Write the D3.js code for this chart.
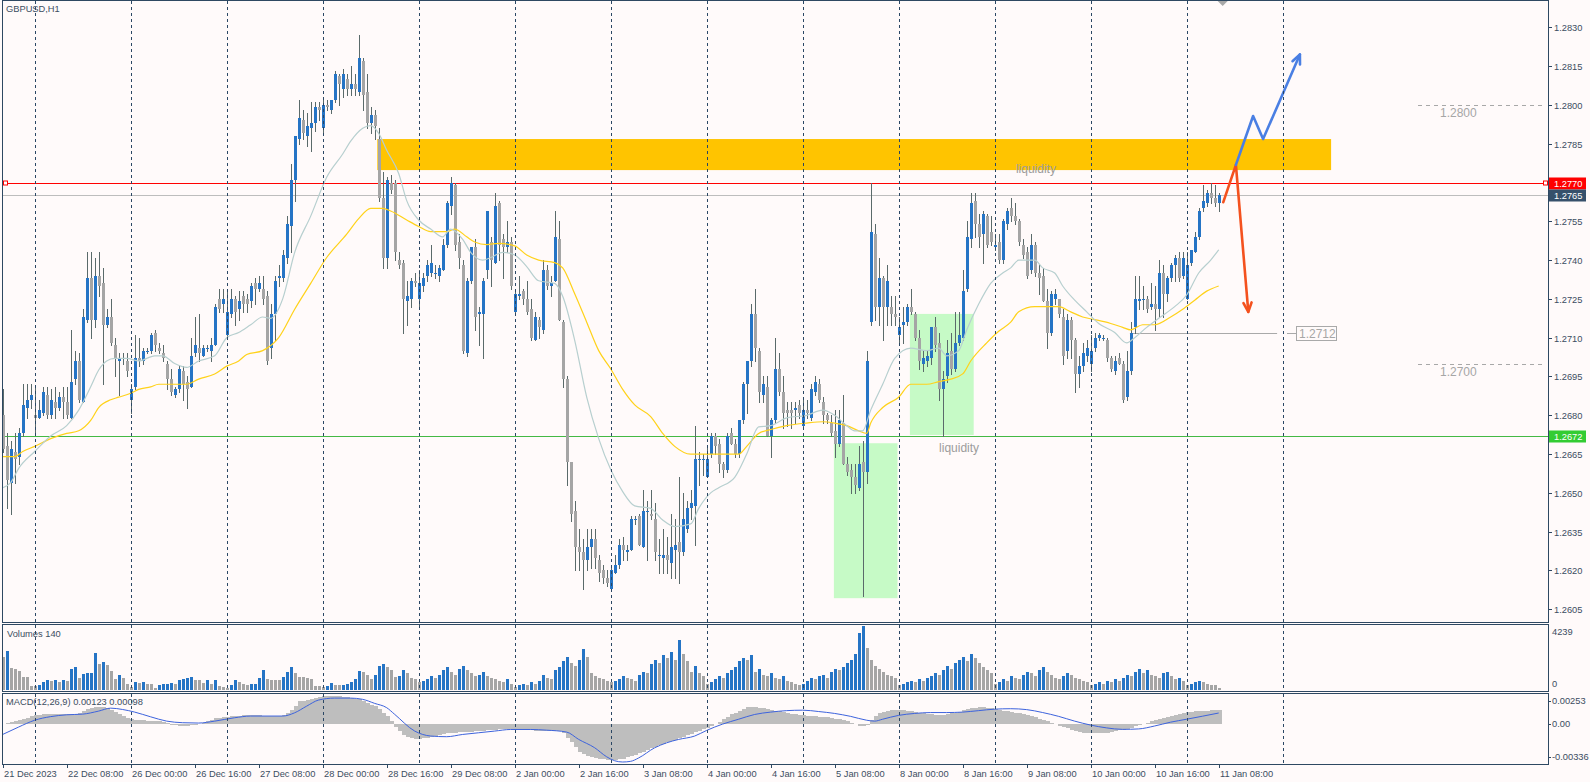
<!DOCTYPE html>
<html><head><meta charset="utf-8"><title>GBPUSD,H1</title>
<script src="https://cdn.jsdelivr.net/npm/d3@7/dist/d3.min.js"></script>
<style>html,body{margin:0;padding:0;background:#FFFAFA;overflow:hidden}svg{display:block}</style>
</head><body><svg id="chart" width="1590" height="782"></svg>
<script>
// ---------------- DATA ----------------
const chartTitle = "GBPUSD,H1";
const volumeTitle = "Volumes 140";
const macdTitle = "MACD(12,26,9) 0.00123 0.00098";
const xTickLabels = ["21 Dec 2023","22 Dec 08:00","26 Dec 00:00","26 Dec 16:00","27 Dec 08:00","28 Dec 00:00","28 Dec 16:00","29 Dec 08:00","2 Jan 00:00","2 Jan 16:00","3 Jan 08:00","4 Jan 00:00","4 Jan 16:00","5 Jan 08:00","8 Jan 00:00","8 Jan 16:00","9 Jan 08:00","10 Jan 00:00","10 Jan 16:00","11 Jan 08:00"];
const xTickBars = [0,16,32,48,64,80,96,112,128,144,160,176,192,208,224,240,256,272,288,304];
const daySeparatorBars = [8,32,56,80,104,128,152,176,200,224,248,272,296,320];
const priceTicks = [1.2830,1.2815,1.2800,1.2785,1.2755,1.2740,1.2725,1.2710,1.2695,1.2680,1.2665,1.2650,1.2635,1.2620,1.2605];
const volumeTicks = [4239, 0];
const macdTicks = [0.00253, 0.00, -0.00336];

const opens = [
1.2680,1.2668,1.2654,1.2666,1.2664,1.2673,1.2683,1.2686,1.2680,1.2679,
1.2681,1.2688,1.2680,1.2685,1.2683,1.2687,1.2685,1.2679,1.2694,1.2701,
1.2685,1.2717,1.2733,1.2717,1.2734,1.2731,1.2715,1.2718,1.2707,1.2701,
1.2702,1.2701,1.2686,1.2691,1.2702,1.2701,1.2705,1.2705,1.2712,1.2706,
1.2704,1.2700,1.2694,1.2688,1.2690,1.2697,1.2693,1.2691,1.2704,1.2706,
1.2703,1.2706,1.2705,1.2707,1.2725,1.2723,1.2711,1.2719,1.2725,1.2721,
1.2726,1.2725,1.2724,1.2731,1.2729,1.2729,1.2726,1.2706,1.2719,1.2733,
1.2733,1.2741,1.2753,1.2771,1.2787,1.2794,1.2788,1.2791,1.2793,1.2799,
1.2791,1.2800,1.2798,1.2802,1.2811,1.2806,1.2810,1.2806,1.2808,1.2805,
1.2817,1.2805,1.2793,1.2796,1.2787,1.2764,1.2741,1.2770,1.2770,1.2740,
1.2739,1.2724,1.2725,1.2732,1.2725,1.2730,1.2734,1.2735,1.2735,1.2734,
1.2736,1.2746,1.2761,1.2769,1.2747,1.2738,1.2704,1.2732,1.2745,1.2719,
1.2719,1.2736,1.2747,1.2739,1.2762,1.2748,1.2745,1.2747,1.2720,1.2726,
1.2728,1.2725,1.2721,1.2709,1.2717,1.2713,1.2736,1.2730,1.2732,1.2748,
1.2716,1.2694,1.2662,1.2643,1.2629,1.2627,1.2624,1.2629,1.2632,1.2624,
1.2620,1.2617,1.2613,1.2619,1.2622,1.2630,1.2627,1.2628,1.2640,1.2641,
1.2629,1.2643,1.2642,1.2640,1.2626,1.2625,1.2626,1.2623,1.2628,1.2631,
1.2627,1.2636,1.2644,1.2645,1.2663,1.2663,1.2656,1.2665,1.2672,1.2669,
1.2661,1.2659,1.2673,1.2669,1.2665,1.2678,1.2692,1.2701,1.2719,1.2705,
1.2688,1.2691,1.2672,1.2678,1.2698,1.2689,1.2682,1.2682,1.2682,1.2684,
1.2676,1.2682,1.2679,1.2689,1.2692,1.2685,1.2680,1.2677,1.2674,1.2669,
1.2677,1.2661,1.2659,1.2656,1.2652,1.2662,1.2658,1.2716,1.2750,1.2722,
1.2733,1.2722,1.2722,1.2719,1.2711,1.2715,1.2716,1.2722,1.2719,1.2710,
1.2700,1.2701,1.2702,1.2714,1.2708,1.2690,1.2695,1.2705,1.2698,1.2708,
1.2710,1.2729,1.2748,1.2763,1.2754,1.2750,1.2757,1.2751,1.2745,1.2747,
1.2740,1.2754,1.2760,1.2757,1.2755,1.2746,1.2743,1.2736,1.2746,1.2735,
1.2734,1.2724,1.2712,1.2725,1.2725,1.2718,1.2705,1.2717,1.2709,1.2696,
1.2699,1.2703,1.2700,1.2706,1.2710,1.2710,1.2709,1.2702,1.2697,1.2702,
1.2700,1.2687,1.2697,1.2714,1.2724,1.2725,1.2725,1.2722,1.2723,1.2721,
1.2735,1.2727,1.2733,1.2738,1.2741,1.2734,1.2725,1.2739,1.2743,1.2749,
1.2760,1.2762,1.2766,1.2764,1.2762];
const highs = [
1.2690,1.2673,1.2670,1.2673,1.2675,1.2692,1.2692,1.2692,1.2691,1.2686,
1.2691,1.2691,1.2690,1.2691,1.2689,1.2691,1.2691,1.2713,1.2705,1.2704,
1.2721,1.2743,1.2743,1.2741,1.2743,1.2737,1.2721,1.2725,1.2710,1.2704,
1.2704,1.2704,1.2692,1.2711,1.2710,1.2706,1.2706,1.2712,1.2713,1.2708,
1.2707,1.2701,1.2698,1.2691,1.2699,1.2699,1.2695,1.2710,1.2718,1.2719,
1.2707,1.2707,1.2710,1.2723,1.2729,1.2729,1.2728,1.2729,1.2726,1.2728,
1.2728,1.2727,1.2731,1.2733,1.2734,1.2734,1.2728,1.2723,1.2734,1.2738,
1.2744,1.2757,1.2777,1.2788,1.2802,1.2798,1.2797,1.2801,1.2801,1.2801,
1.2802,1.2802,1.2802,1.2813,1.2812,1.2814,1.2812,1.2815,1.2812,1.2827,
1.2818,1.2812,1.2799,1.2798,1.2791,1.2774,1.2772,1.2773,1.2771,1.2743,
1.2740,1.2732,1.2733,1.2735,1.2736,1.2735,1.2740,1.2746,1.2738,1.2738,
1.2748,1.2763,1.2772,1.2770,1.2750,1.2740,1.2733,1.2745,1.2748,1.2722,
1.2733,1.2759,1.2749,1.2766,1.2763,1.2750,1.2755,1.2749,1.2728,1.2734,
1.2729,1.2732,1.2725,1.2720,1.2718,1.2740,1.2738,1.2734,1.2759,1.2755,
1.2717,1.2695,1.2662,1.2647,1.2636,1.2632,1.2636,1.2636,1.2636,1.2626,
1.2622,1.2620,1.2622,1.2626,1.2632,1.2633,1.2630,1.2641,1.2641,1.2642,
1.2651,1.2647,1.2651,1.2646,1.2632,1.2636,1.2633,1.2642,1.2640,1.2656,
1.2650,1.2647,1.2651,1.2676,1.2666,1.2665,1.2668,1.2673,1.2673,1.2671,
1.2662,1.2673,1.2675,1.2671,1.2678,1.2693,1.2701,1.2723,1.2729,1.2706,
1.2695,1.2695,1.2679,1.2710,1.2704,1.2695,1.2685,1.2685,1.2685,1.2686,
1.2686,1.2686,1.2692,1.2695,1.2694,1.2687,1.2681,1.2680,1.2682,1.2682,
1.2688,1.2664,1.2661,1.2661,1.2668,1.2670,1.2705,1.2770,1.2754,1.2741,
1.2734,1.2738,1.2726,1.2726,1.2718,1.2722,1.2723,1.2729,1.2720,1.2713,
1.2705,1.2705,1.2714,1.2718,1.2712,1.2697,1.2709,1.2712,1.2720,1.2720,
1.2736,1.2755,1.2766,1.2766,1.2758,1.2759,1.2758,1.2757,1.2750,1.2750,
1.2756,1.2760,1.2764,1.2762,1.2756,1.2748,1.2745,1.2750,1.2747,1.2738,
1.2737,1.2729,1.2728,1.2729,1.2725,1.2721,1.2719,1.2718,1.2710,1.2703,
1.2708,1.2709,1.2711,1.2712,1.2712,1.2711,1.2710,1.2703,1.2703,1.2704,
1.2701,1.2705,1.2716,1.2734,1.2734,1.2730,1.2726,1.2731,1.2730,1.2740,
1.2738,1.2734,1.2739,1.2742,1.2743,1.2743,1.2743,1.2744,1.2751,1.2760,
1.2769,1.2767,1.2770,1.2769,1.2766];
const lows = [
1.2666,1.2644,1.2642,1.2654,1.2661,1.2672,1.2679,1.2683,1.2673,1.2679,
1.2680,1.2679,1.2679,1.2679,1.2682,1.2679,1.2679,1.2679,1.2692,1.2685,
1.2685,1.2716,1.2710,1.2714,1.2726,1.2692,1.2714,1.2707,1.2695,1.2688,
1.2700,1.2695,1.2681,1.2690,1.2699,1.2700,1.2704,1.2704,1.2705,1.2704,
1.2701,1.2690,1.2688,1.2687,1.2689,1.2686,1.2683,1.2691,1.2703,1.2701,
1.2703,1.2705,1.2701,1.2707,1.2720,1.2720,1.2710,1.2718,1.2715,1.2717,
1.2720,1.2720,1.2722,1.2723,1.2728,1.2723,1.2700,1.2702,1.2709,1.2730,
1.2732,1.2739,1.2743,1.2763,1.2785,1.2787,1.2784,1.2782,1.2790,1.2794,
1.2789,1.2798,1.2797,1.2801,1.2800,1.2803,1.2804,1.2804,1.2804,1.2804,
1.2798,1.2791,1.2789,1.2787,1.2763,1.2737,1.2737,1.2766,1.2740,1.2737,
1.2712,1.2715,1.2722,1.2730,1.2721,1.2728,1.2732,1.2734,1.2733,1.2732,
1.2736,1.2745,1.2758,1.2744,1.2737,1.2704,1.2703,1.2731,1.2713,1.2707,
1.2702,1.2733,1.2730,1.2739,1.2740,1.2733,1.2743,1.2729,1.2720,1.2725,
1.2723,1.2719,1.2709,1.2709,1.2710,1.2712,1.2729,1.2726,1.2732,1.2717,
1.2691,1.2653,1.2639,1.2620,1.2620,1.2613,1.2620,1.2621,1.2621,1.2616,
1.2615,1.2614,1.2613,1.2619,1.2621,1.2624,1.2624,1.2628,1.2638,1.2630,
1.2629,1.2624,1.2640,1.2624,1.2619,1.2619,1.2619,1.2617,1.2617,1.2615,
1.2626,1.2635,1.2640,1.2630,1.2653,1.2657,1.2656,1.2664,1.2665,1.2658,
1.2656,1.2658,1.2669,1.2664,1.2664,1.2677,1.2681,1.2699,1.2701,1.2685,
1.2685,1.2672,1.2664,1.2677,1.2688,1.2675,1.2676,1.2675,1.2677,1.2679,
1.2675,1.2679,1.2678,1.2688,1.2685,1.2677,1.2677,1.2672,1.2664,1.2668,
1.2661,1.2657,1.2650,1.2650,1.2651,1.2610,1.2654,1.2715,1.2717,1.2715,
1.2709,1.2715,1.2715,1.2715,1.2707,1.2708,1.2715,1.2719,1.2709,1.2698,
1.2697,1.2699,1.2700,1.2705,1.2686,1.2672,1.2693,1.2696,1.2697,1.2707,
1.2709,1.2728,1.2745,1.2749,1.2745,1.2739,1.2745,1.2746,1.2744,1.2739,
1.2739,1.2752,1.2755,1.2754,1.2746,1.2741,1.2733,1.2735,1.2734,1.2727,
1.2724,1.2706,1.2711,1.2723,1.2718,1.2700,1.2702,1.2702,1.2689,1.2691,
1.2697,1.2701,1.2697,1.2705,1.2709,1.2709,1.2701,1.2697,1.2696,1.2700,
1.2685,1.2686,1.2696,1.2712,1.2721,1.2721,1.2720,1.2721,1.2713,1.2718,
1.2718,1.2724,1.2732,1.2732,1.2732,1.2733,1.2725,1.2738,1.2743,1.2748,
1.2759,1.2761,1.2762,1.2761,1.2759];
const closes = [
1.2667,1.2655,1.2667,1.2663,1.2673,1.2684,1.2686,1.2688,1.2679,1.2682,
1.2689,1.2680,1.2686,1.2683,1.2687,1.2685,1.2680,1.2693,1.2701,1.2686,
1.2718,1.2733,1.2717,1.2734,1.2730,1.2715,1.2718,1.2708,1.2702,1.2702,
1.2702,1.2697,1.2690,1.2702,1.2701,1.2705,1.2705,1.2711,1.2707,1.2705,
1.2702,1.2694,1.2689,1.2690,1.2698,1.2692,1.2690,1.2703,1.2707,1.2704,
1.2706,1.2706,1.2707,1.2722,1.2721,1.2725,1.2720,1.2725,1.2720,1.2724,
1.2723,1.2723,1.2730,1.2729,1.2731,1.2725,1.2701,1.2719,1.2732,1.2734,
1.2742,1.2754,1.2771,1.2788,1.2795,1.2789,1.2792,1.2793,1.2799,1.2798,
1.2800,1.2799,1.2802,1.2812,1.2808,1.2812,1.2806,1.2808,1.2806,1.2818,
1.2804,1.2793,1.2796,1.2792,1.2764,1.2741,1.2771,1.2767,1.2743,1.2738,
1.2725,1.2726,1.2732,1.2731,1.2731,1.2733,1.2738,1.2739,1.2735,1.2737,
1.2746,1.2762,1.2770,1.2746,1.2741,1.2705,1.2732,1.2745,1.2718,1.2720,
1.2732,1.2759,1.2740,1.2761,1.2746,1.2745,1.2747,1.2730,1.2727,1.2727,
1.2725,1.2720,1.2710,1.2718,1.2714,1.2736,1.2730,1.2731,1.2749,1.2717,
1.2694,1.2662,1.2642,1.2629,1.2627,1.2624,1.2629,1.2632,1.2625,1.2619,
1.2617,1.2615,1.2620,1.2622,1.2630,1.2628,1.2628,1.2640,1.2640,1.2630,
1.2643,1.2643,1.2641,1.2627,1.2626,1.2626,1.2624,1.2629,1.2630,1.2627,
1.2640,1.2644,1.2646,1.2663,1.2663,1.2663,1.2663,1.2672,1.2668,1.2661,
1.2659,1.2672,1.2669,1.2665,1.2678,1.2692,1.2701,1.2719,1.2706,1.2689,
1.2692,1.2672,1.2678,1.2698,1.2689,1.2681,1.2681,1.2681,1.2683,1.2681,
1.2682,1.2681,1.2690,1.2693,1.2686,1.2680,1.2678,1.2673,1.2669,1.2678,
1.2661,1.2658,1.2656,1.2653,1.2661,1.2658,1.2701,1.2751,1.2722,1.2733,
1.2722,1.2732,1.2719,1.2718,1.2714,1.2716,1.2722,1.2720,1.2710,1.2701,
1.2702,1.2703,1.2714,1.2707,1.2690,1.2694,1.2704,1.2698,1.2708,1.2711,
1.2728,1.2749,1.2762,1.2754,1.2749,1.2758,1.2746,1.2747,1.2746,1.2740,
1.2755,1.2759,1.2757,1.2755,1.2747,1.2742,1.2734,1.2746,1.2735,1.2733,
1.2724,1.2712,1.2727,1.2727,1.2719,1.2703,1.2717,1.2709,1.2696,1.2699,
1.2704,1.2706,1.2705,1.2710,1.2711,1.2710,1.2702,1.2698,1.2701,1.2700,
1.2686,1.2697,1.2712,1.2725,1.2725,1.2725,1.2721,1.2723,1.2721,1.2735,
1.2727,1.2733,1.2738,1.2741,1.2733,1.2741,1.2738,1.2744,1.2749,1.2759,
1.2763,1.2766,1.2764,1.2762,1.2765];
const volumes = [
2170,2595,1467,1400,1276,893,880,298,290,362,
510,680,574,680,510,680,574,1383,1510,808,
1063,1106,1148,2425,1744,1829,1638,1276,744,978,
808,404,213,510,468,510,425,420,150,362,
400,420,440,400,680,700,808,850,680,638,
468,638,425,638,298,213,150,362,638,553,
425,362,383,425,766,1319,744,680,670,638,
893,1212,1510,1148,893,850,808,744,298,290,
213,298,468,362,350,362,370,532,723,1276,
1191,1021,723,1021,1574,1723,1510,1319,893,900,
1300,1100,800,700,500,600,700,900,800,1000,
1300,1500,1200,1000,1400,1600,1300,1100,900,1000,
1200,900,800,700,600,500,700,400,200,300,
400,300,500,400,600,1000,800,700,1300,1500,
1900,2200,1800,1600,2000,2700,2200,1100,900,800,
700,600,500,600,700,900,800,700,600,1000,
1200,1100,1700,2000,1800,2300,2100,2500,2000,3300,
2400,1900,1200,1600,1100,900,400,500,700,900,
800,1100,1300,1500,1900,2100,2000,2300,1200,1400,
1000,900,1100,800,700,900,600,500,400,300,
400,600,800,700,900,1000,800,1200,1400,1300,
1500,1800,2000,2400,3800,4239,2800,2000,1600,1400,
1200,1000,900,800,300,400,500,600,500,700,
600,800,900,1100,1000,1300,1600,1400,1800,2000,
2200,1900,2400,2100,1800,1500,1300,1100,400,500,
700,600,900,800,700,1000,1200,1100,900,1300,
1500,1200,1000,800,700,900,1100,1000,800,700,
600,500,300,400,500,400,600,500,700,600,
800,1000,900,1200,1400,1100,1300,1000,900,800,
1100,1200,900,700,800,600,300,400,500,600,
500,400,350,300,140];
const macdMain = [
0,0.00009,0.00017,0.00026,0.00038,0.00047,0.00055,0.00068,0.00077,0.00081,
0.00085,0.00085,0.00085,0.00085,0.00085,0.00085,0.00085,0.00085,0.00089,0.00098,
0.00119,0.00132,0.00145,0.00149,0.00153,0.00151,0.00145,0.00128,0.00111,0.00089,
0.00068,0.00055,0.00043,0.00038,0.00034,0.00032,0.0003,0.00028,0.00026,0.00024,
0.00017,0.00009,-0.00004,-0.00009,-0.00013,-0.00013,-0.00013,-0.0001,-0.00004,0,
0.00013,0.0003,0.00038,0.00051,0.00055,0.0006,0.00064,0.00068,0.00072,0.00075,
0.00077,0.00077,0.00077,0.00077,0.00077,0.00075,0.00072,0.0007,0.00068,0.00068,
0.00081,0.00098,0.00128,0.00162,0.002,0.00208,0.00213,0.00223,0.0023,0.00238,
0.00246,0.0025,0.00253,0.0025,0.00246,0.00238,0.00237,0.00231,0.00223,0.0022,
0.00204,0.00187,0.0017,0.00157,0.00136,0.00102,0.00068,0.00026,-0.00026,-0.0006,
-0.00094,-0.00115,-0.00126,-0.00129,-0.00128,-0.00126,-0.00121,-0.00115,-0.00109,-0.001,
-0.00092,-0.00083,-0.00078,-0.00075,-0.00073,-0.00071,-0.00068,-0.00066,-0.00064,-0.00061,
-0.0006,-0.00056,-0.00053,-0.00049,-0.00047,-0.00047,-0.00047,-0.00048,-0.00049,-0.00051,
-0.00053,-0.00054,-0.00056,-0.00058,-0.0006,-0.0006,-0.00058,-0.00058,-0.0006,-0.00065,
-0.00081,-0.00119,-0.00162,-0.00204,-0.00247,-0.00268,-0.00281,-0.00289,-0.00298,-0.00305,
-0.00311,-0.00317,-0.0032,-0.00318,-0.00313,-0.00305,-0.00296,-0.00285,-0.00272,-0.00257,
-0.00243,-0.00228,-0.00214,-0.00201,-0.00187,-0.00174,-0.00162,-0.0015,-0.00138,-0.00126,
-0.00112,-0.00099,-0.00085,-0.00071,-0.00058,-0.00044,-0.00032,-0.00017,0,0.00021,
0.00043,0.00064,0.00085,0.00102,0.00119,0.00136,0.00149,0.00153,0.00151,0.00146,
0.0014,0.00132,0.00126,0.00119,0.00112,0.00106,0.00099,0.00092,0.00085,0.00081,
0.00077,0.00072,0.0007,0.00068,0.00066,0.00064,0.0006,0.00055,0.00049,0.00043,
0.00034,0.00026,0.00013,0,-0.00013,-0.00021,-0.00009,0.00034,0.00068,0.00094,
0.00111,0.00119,0.00123,0.00126,0.00126,0.00123,0.00119,0.00112,0.00106,0.001,
0.00094,0.00089,0.00085,0.00083,0.00082,0.00083,0.00087,0.00094,0.00102,0.00111,
0.00123,0.00132,0.0014,0.00146,0.0015,0.00149,0.00146,0.00143,0.00136,0.00128,
0.00119,0.00112,0.00106,0.00102,0.00095,0.00085,0.00077,0.00068,0.0006,0.00049,
0.00038,0.00026,0.00013,0,-0.00013,-0.00026,-0.00038,-0.00049,-0.0006,-0.00068,
-0.00075,-0.00078,-0.00081,-0.00082,-0.00081,-0.00078,-0.00075,-0.0007,-0.00064,-0.00056,
-0.00049,-0.00041,-0.00031,-0.0002,-0.0001,0,0.00012,0.00024,0.00035,0.00046,
0.00056,0.00066,0.00075,0.00083,0.0009,0.00097,0.00103,0.00108,0.00112,0.00115,
0.00118,0.0012,0.00121,0.00122,0.00123];
const signalBars = [0,4,8,12,16,20,24,27,30,33,37,41,45,49,53,58,62,70,73,76,79,83,87,90,93,96,98,103,107,111,115,119,123,127,132,136,141,144,148,151,153,155,157,159,163,166,169,173,176,180,184,188,192,196,200,204,208,212,216,218,220,224,228,232,236,240,244,248,252,256,260,264,268,272,276,280,284,288,292,296,300,304];
const signalVals = [-0.00092,-0.00026,0.00034,0.00066,0.00082,0.00088,0.00115,0.00141,0.00129,0.00106,0.00064,0.00026,0.00012,0.00009,0.00026,0.00056,0.00071,0.00071,0.001,0.00159,0.00213,0.0023,0.0023,0.00219,0.00183,0.00145,0.00086,-0.00062,-0.00106,-0.00112,-0.00092,-0.00077,-0.00062,-0.00048,-0.00048,-0.00054,-0.00071,-0.00136,-0.0021,-0.0029,-0.00325,-0.00336,-0.0033,-0.003,-0.0021,-0.00166,-0.00136,-0.00106,-0.00056,0,0.00043,0.00085,0.00106,0.00119,0.00123,0.00111,0.00094,0.00068,0.00034,0.00026,0.00043,0.00077,0.00094,0.00102,0.00102,0.00106,0.00119,0.00132,0.00136,0.00128,0.00102,0.00068,0.00026,-0.00009,-0.00034,-0.00047,-0.00043,-0.00017,0.00017,0.00043,0.0007,0.00098];
const maFastBars = [0,2,4,8,12,16,19,22,24,26,28,31,34,38,40,43,46,49,53,56,59,62,65,67,70,73,77,81,85,87,90,92,94,96,99,101,104,107,110,112,115,117,120,122,125,128,131,134,138,140,143,146,149,152,155,158,162,165,168,172,174,177,179,183,186,189,192,196,201,205,208,211,213,215,217,220,223,227,231,234,236,239,241,244,247,250,252,254,258,260,263,265,268,271,274,278,281,283,286,289,293,296,299,302,304];
const maFastVals = [1.2652,1.2654,1.26595,1.2666,1.2672,1.2676,1.2682,1.2691,1.26975,1.2701,1.2702,1.2702,1.2701,1.2703,1.2703,1.2700,1.26985,1.2701,1.2703,1.2710,1.2712,1.2715,1.2718,1.27175,1.2725,1.2743,1.2757,1.2772,1.2781,1.2786,1.2791,1.2792,1.2789,1.27825,1.27735,1.2763,1.27555,1.2752,1.2749,1.2752,1.2748,1.2743,1.2740,1.2741,1.2743,1.2742,1.27375,1.2732,1.2731,1.2726,1.2709,1.2687,1.2671,1.2659,1.26505,1.2645,1.2644,1.26395,1.2637,1.2638,1.2644,1.2650,1.2652,1.2656,1.2665,1.26755,1.2676,1.2679,1.2680,1.2682,1.2680,1.2676,1.2674,1.2674,1.2682,1.2692,1.2702,1.2706,1.2705,1.2706,1.2703,1.2705,1.2713,1.2723,1.2731,1.2735,1.2737,1.2740,1.2740,1.2737,1.2735,1.2730,1.27245,1.2720,1.27155,1.2712,1.2708,1.2710,1.2714,1.27175,1.2722,1.27265,1.2735,1.2740,1.2744];
const maSlowBars = [0,3,5,8,12,16,19,22,24,27,29,32,34,37,39,43,46,49,53,56,59,61,65,69,73,77,81,86,89,92,95,97,101,104,107,111,113,116,118,121,124,128,131,134,138,140,143,146,149,152,155,158,162,165,168,172,174,178,181,184,186,189,192,196,201,205,208,211,214,216,217,220,224,227,231,234,237,240,242,246,249,252,254,258,261,264,267,270,273,277,280,282,285,288,292,295,298,301,304];
const maSlowVals = [1.2664,1.2664,1.2666,1.2668,1.2671,1.2673,1.2674,1.2678,1.2683,1.2686,1.2687,1.26885,1.2690,1.2691,1.2692,1.2692,1.2692,1.2694,1.2696,1.2699,1.2701,1.27035,1.2705,1.2710,1.2721,1.2731,1.2741,1.2750,1.2756,1.2760,1.2760,1.2759,1.27555,1.2753,1.2751,1.2751,1.2752,1.2749,1.2747,1.2746,1.27465,1.27455,1.2742,1.2740,1.2739,1.2737,1.2727,1.2716,1.2705,1.2698,1.2690,1.2684,1.26795,1.2673,1.2668,1.2665,1.2665,1.2665,1.2665,1.2665,1.2668,1.2673,1.26745,1.2676,1.2677,1.26775,1.2677,1.2676,1.2674,1.2673,1.2677,1.2683,1.2687,1.2692,1.2692,1.2693,1.2694,1.2696,1.2701,1.2708,1.27125,1.2716,1.2720,1.2722,1.2722,1.2722,1.2720,1.2718,1.2717,1.27155,1.2714,1.2713,1.2715,1.2715,1.2718,1.2721,1.27245,1.2728,1.2730];

// annotations (bar index, price)
const zoneBarStart = [93.65, 207.8, 226.8];
const zoneBarEnd   = [332.1, 223.7, 242.75];
const zoneTop      = [1.27868, 1.26692, 1.27192];
const zoneBottom   = [1.27748, 1.26093, 1.26724];
const zoneKinds    = ["supply", "demand", "demand"];
const liquidityBars = [253.3, 234.1];
const liquidityPrices = [1.27735, 1.26658];
const redLevel = 1.2770, bidLevel = 1.2765, greenLevel = 1.2672;
const roundLevels = [1.2800, 1.2700, 1.2600];
const markLevel = 1.2712, markBarStart = 281.8, markBarEnd = 318.6;
const redArrowBars = [305.15, 308.3, 311.4];
const redArrowPrices = [1.27624, 1.27768, 1.2720];
const blueArrowBars = [308.3, 312.6, 315.1, 324.3];
const blueArrowPrices = [1.27768, 1.27957, 1.27868, 1.28195];

// ---------------- DRAWING ----------------
const FONT = '"Liberation Sans", Arial, sans-serif';
const FS = 9.3;
const COL = {bg:'#FFFAFA', frame:'#2E4862', text:'#3B4D61', sep:'#2B4764', bull:'#2574C5', bear:'#A5A5A5',
  wick:'#5A6A6A', hist:'#BEBEBE', signal:'#3D63DD', maSlow:'#FFD21A', maFast:'#B7CFCF'};
const W = 1590, H = 782, plotL = 2, plotR = 1548;
const pMain = [0, 622], pVol = [624, 691], pMacd = [693, 764];
const svg = d3.select('#chart');
const n = opens.length;
const x = d3.scaleLinear().domain([0, 304]).range([2.7, 1218.7]);
const cx = i => Math.round(x(i));
const y = d3.scaleLinear().domain([1.2605, 1.2830]).range([609.3, 27.3]);
const yv = d3.scaleLinear().domain([0, 4239]).range([690, 626]);
const ym = d3.scaleLinear().domain([-0.00336, 0.00253]).range([762, 695.5]);

svg.append('rect').attr('width', W).attr('height', H).attr('fill', COL.bg);
const defs = svg.append('defs');
[['cMain', pMain], ['cVol', pVol], ['cMacd', pMacd]].forEach(([id, p]) => {
  defs.append('clipPath').attr('id', id).append('rect')
    .attr('x', plotL + 1).attr('y', p[0] + 1).attr('width', plotR - plotL - 1).attr('height', p[1] - p[0] - 1);
});
const gMain = svg.append('g').attr('clip-path', 'url(#cMain)');
const gVol = svg.append('g').attr('clip-path', 'url(#cVol)');
const gMacd = svg.append('g').attr('clip-path', 'url(#cMacd)');

// zones
const zoneFill = {supply: '#FFC400', demand: '#C6FAC6'};
zoneBarStart.forEach((b, k) => {
  gMain.append('rect').attr('x', x(b)).attr('width', x(zoneBarEnd[k]) - x(b))
    .attr('y', y(zoneTop[k])).attr('height', y(zoneBottom[k]) - y(zoneTop[k]))
    .attr('fill', zoneFill[zoneKinds[k]]);
});

// day separators (all panels)
const gSep = svg.append('g');
daySeparatorBars.forEach(b => {
  const xx = cx(b) + 0.5;
  [pMain, pVol, pMacd].forEach(p => {
    gSep.append('line').attr('x1', xx).attr('x2', xx).attr('y1', p[0] + 1).attr('y2', p[1])
      .attr('stroke', COL.sep).attr('stroke-width', 1).attr('stroke-dasharray', '3,3');
  });
});

// round levels (dashed, right side)
roundLevels.forEach(lv => {
  const yy = Math.round(y(lv)) + 0.5;
  gMain.append('line').attr('x1', 1418).attr('x2', 1546).attr('y1', yy).attr('y2', yy)
    .attr('stroke', '#A8A8A8').attr('stroke-dasharray', '4,4');
  gMain.append('text').attr('x', 1440).attr('y', yy + 11.5).text(lv.toFixed(4))
    .attr('font-family', FONT).attr('font-size', 12).attr('fill', '#A6A6A6');
});

// horizontal lines
const hl = (lv, color) => {
  const yy = Math.round(y(lv)) + 0.5;
  gMain.append('line').attr('x1', plotL).attr('x2', plotR).attr('y1', yy).attr('y2', yy).attr('stroke', color).attr('stroke-width', 1);
  return yy;
};
hl(bidLevel, '#BDBDBD');
hl(greenLevel, '#44B944');
const ry = hl(redLevel, '#FF0000');
[[3, ry], [1543, ry]].forEach(([sx, sy]) => {
  gMain.append('rect').attr('x', sx + 0.5).attr('y', sy - 2.5).attr('width', 4).attr('height', 4)
    .attr('fill', '#FFFFFF').attr('stroke', '#FF0000').attr('stroke-width', 1);
});
// 1.2712 marker line with label box
{
  const yy = Math.round(y(markLevel)) + 0.5;
  gMain.append('line').attr('x1', x(markBarStart)).attr('x2', x(markBarEnd)).attr('y1', yy).attr('y2', yy).attr('stroke', '#A9A9A9');
  gMain.append('line').attr('x1', 1287).attr('x2', 1296).attr('y1', yy).attr('y2', yy).attr('stroke', '#A9A9A9');
  gMain.append('rect').attr('x', 1296.5).attr('y', yy - 7).attr('width', 40).attr('height', 14)
    .attr('fill', '#FFFAFA').attr('stroke', '#A9A9A9');
  gMain.append('text').attr('x', 1299).attr('y', yy + 4.5).text(markLevel.toFixed(4))
    .attr('font-family', FONT).attr('font-size', 12).attr('fill', '#A6A6A6');
}

// candles
const idx = d3.range(n);
const gC = gMain.append('g');
gC.selectAll('line.w').data(idx).join('line').attr('class', 'w')
  .attr('x1', i => cx(i) + 0.5).attr('x2', i => cx(i) + 0.5)
  .attr('y1', i => Math.round(y(highs[i]))).attr('y2', i => Math.round(y(lows[i])) + 1)
  .attr('stroke', COL.wick).attr('stroke-width', 1);
gC.selectAll('rect.b').data(idx).join('rect').attr('class', 'b')
  .attr('x', i => cx(i) - 1).attr('width', 3)
  .attr('y', i => Math.round(y(Math.max(opens[i], closes[i]))))
  .attr('height', i => Math.max(1, Math.round(y(Math.min(opens[i], closes[i]))) - Math.round(y(Math.max(opens[i], closes[i])))))
  .attr('fill', i => closes[i] >= opens[i] ? COL.bull : COL.bear);

// moving averages
const maLine = d3.line().x(d => x(d[0])).y(d => y(d[1])).curve(d3.curveMonotoneX);
gMain.append('path').attr('d', maLine(maSlowBars.map((b, k) => [b, maSlowVals[k]])))
  .attr('fill', 'none').attr('stroke', COL.maSlow).attr('stroke-width', 1.2);
gMain.append('path').attr('d', maLine(maFastBars.map((b, k) => [b, maFastVals[k]])))
  .attr('fill', 'none').attr('stroke', COL.maFast).attr('stroke-width', 1.2);

// arrows
function drawArrow(bars, prices, color) {
  const pts = bars.map((b, k) => [x(b), y(prices[k])]);
  gMain.append('path').attr('d', d3.line()(pts)).attr('fill', 'none').attr('stroke', color)
    .attr('stroke-width', 2.6).attr('stroke-linejoin', 'round').attr('stroke-linecap', 'round');
  const a = pts[pts.length - 2], b = pts[pts.length - 1];
  const ang = Math.atan2(b[1] - a[1], b[0] - a[0]), L = 10, s = 0.42;
  const w1 = [b[0] - L * Math.cos(ang - s), b[1] - L * Math.sin(ang - s)];
  const w2 = [b[0] - L * Math.cos(ang + s), b[1] - L * Math.sin(ang + s)];
  gMain.append('path').attr('d', d3.line()([w1, b, w2])).attr('fill', 'none').attr('stroke', color)
    .attr('stroke-width', 2.6).attr('stroke-linejoin', 'round').attr('stroke-linecap', 'round');
}
drawArrow(redArrowBars, redArrowPrices, '#F4511E');
drawArrow(blueArrowBars, blueArrowPrices, '#4A7FE3');

// liquidity labels
liquidityBars.forEach((b, k) => {
  gMain.append('text').attr('x', x(b)).attr('y', y(liquidityPrices[k])).text('liquidity')
    .attr('font-family', FONT).attr('font-size', 12).attr('fill', '#9C9C9C');
});
// chart shift marker
gMain.append('path').attr('d', d3.line()([[x(305) - 5, 1], [x(305) + 5, 1], [x(305), 6]]) + 'Z').attr('fill', '#A8A8A8');

// volumes
gVol.selectAll('rect').data(idx).join('rect')
  .attr('x', i => cx(i) - 1).attr('width', 3)
  .attr('y', i => Math.round(yv(volumes[i])))
  .attr('height', i => Math.max(1, Math.round(yv(0)) - Math.round(yv(volumes[i]))))
  .attr('fill', i => (i > 0 && volumes[i] > volumes[i - 1]) ? COL.bull : COL.bear);

// MACD
const y0m = Math.round(ym(0));
gMacd.selectAll('rect').data(idx).join('rect')
  .attr('x', i => cx(i) - 1).attr('width', 4)
  .attr('y', i => Math.min(y0m, Math.round(ym(macdMain[i]))))
  .attr('height', i => Math.abs(Math.round(ym(macdMain[i])) - y0m))
  .attr('fill', COL.hist);
gMacd.append('path').attr('d', d3.line().x(d => x(d[0])).y(d => ym(d[1])).curve(d3.curveMonotoneX)(signalBars.map((b, k) => [b, signalVals[k]])))
  .attr('fill', 'none').attr('stroke', COL.signal).attr('stroke-width', 1);

// frames
[pMain, pVol, pMacd].forEach(p => {
  svg.append('rect').attr('x', plotL + 0.5).attr('y', p[0] + 0.5).attr('width', plotR - plotL).attr('height', p[1] - p[0])
    .attr('fill', 'none').attr('stroke', COL.frame).attr('stroke-width', 1);
});

// titles
const txt = (xx, yy, s, opts = {}) => svg.append('text').attr('x', xx).attr('y', yy).text(s)
  .attr('font-family', FONT).attr('font-size', opts.size || FS).attr('fill', opts.fill || COL.text)
  .attr('dominant-baseline', 'central').attr('text-anchor', opts.anchor || 'start');
txt(6, 8.5, chartTitle);
txt(7, 634, volumeTitle);
txt(6, 702, macdTitle);

// price axis
const gAx = svg.append('g');
priceTicks.forEach(p => {
  const yy = Math.round(y(p)) + 0.5;
  gAx.append('line').attr('x1', plotR).attr('x2', plotR + 4).attr('y1', yy).attr('y2', yy).attr('stroke', COL.frame);
  txt(1554, yy, p.toFixed(4));
});
const tag = (lv, color) => {
  const yy = Math.round(y(lv)) + 0.5;
  gAx.append('rect').attr('x', 1549).attr('y', yy - 6).attr('width', 37).attr('height', 12).attr('fill', color);
  txt(1554, yy, lv.toFixed(4), {fill: '#FFFFFF'});
};
tag(redLevel, '#FF0000');
tag(bidLevel, '#36506B');
tag(greenLevel, '#33CC33');

// volume axis
txt(1552, 632, String(volumeTicks[0]));
txt(1552, 684, String(volumeTicks[1]));
// macd axis
[[macdTicks[0], 700.7], [macdTicks[1], 724.3], [macdTicks[2], 757.3]].forEach(([v, yy]) => {
  gAx.append('line').attr('x1', plotR).attr('x2', plotR + 3).attr('y1', Math.round(yy) + 0.5).attr('y2', Math.round(yy) + 0.5).attr('stroke', COL.frame);
  txt(1552, yy, v === 0 ? '0.00' : v.toFixed(5));
});

// time axis
xTickBars.forEach((b, k) => {
  const xx = cx(b) + 0.5;
  gAx.append('line').attr('x1', xx).attr('x2', xx).attr('y1', pMacd[1]).attr('y2', pMacd[1] + 4).attr('stroke', COL.frame);
  txt(xx + 0.5, 773.5, xTickLabels[k]);
});
</script></body></html>
